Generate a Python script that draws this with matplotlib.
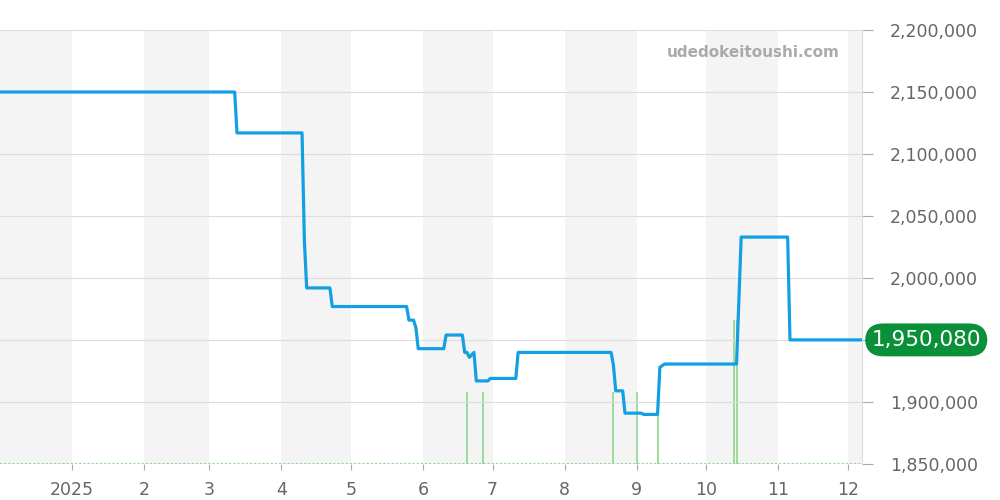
import pandas as pd
import matplotlib.pyplot as plt
from matplotlib.ticker import FuncFormatter

# price history
price_dates = ['2024-12-01', '2025-03-12', '2025-03-13', '2025-04-10', '2025-04-11', '2025-04-12',
               '2025-04-22', '2025-04-23', '2025-05-25', '2025-05-26', '2025-05-28', '2025-05-29',
               '2025-05-30', '2025-06-10', '2025-06-11', '2025-06-18', '2025-06-19', '2025-06-20',
               '2025-06-21', '2025-06-23', '2025-06-24', '2025-06-29', '2025-06-30', '2025-07-11',
               '2025-07-12', '2025-08-21', '2025-08-22', '2025-08-23', '2025-08-26', '2025-08-27',
               '2025-09-03', '2025-09-04', '2025-09-10', '2025-09-11', '2025-09-13', '2025-10-14',
               '2025-10-16', '2025-11-05', '2025-11-06', '2025-12-07']
price_values = [2150000, 2150000, 2117000, 2117000, 2030000, 1992000,
                1992000, 1977000, 1977000, 1966000, 1966000, 1960000,
                1943000, 1943000, 1954000, 1954000, 1940000, 1940000,
                1936000, 1940000, 1917000, 1917000, 1919000, 1919000,
                1940000, 1940000, 1930000, 1909000, 1909000, 1891000,
                1891000, 1890000, 1890000, 1928000, 1930600, 1930600,
                2033000, 2033000, 1950080, 1950080]

# volume bars
vol_dates = ['2025-06-20', '2025-06-27', '2025-08-22', '2025-09-01', '2025-09-10',
             '2025-10-13', '2025-10-14']
vol_values = [1, 1, 1, 1, 1, 2, 2]

last_price = 1950080
y_ticks = [1850000, 1900000, 1950000, 2000000, 2050000, 2100000, 2150000, 2200000]
x_ticks = ['2025-01-01', '2025-02-01', '2025-03-01', '2025-04-01', '2025-05-01', '2025-06-01',
           '2025-07-01', '2025-08-01', '2025-09-01', '2025-10-01', '2025-11-01', '2025-12-01']
x_tick_labels = ['2025', '2', '3', '4', '5', '6', '7', '8', '9', '10', '11', '12']

px = pd.to_datetime(price_dates)
vx = pd.to_datetime(vol_dates)
x_start = pd.Timestamp('2024-12-01')
x_end = pd.Timestamp('2025-12-07')

fig = plt.figure(figsize=(10, 5), dpi=100)
ax = fig.add_axes([0, 0.072, 0.862, 0.868])

# volume on a twin axis (drawn behind the price line)
ax2 = ax.twinx()
ax2.set_ylim(0, 6.03)
months = pd.date_range('2024-12-01', '2026-01-01', freq='MS')
for i in range(len(months) - 1):
    if i % 2 == 0:
        ax2.axvspan(months[i], months[i + 1], color='#f4f4f4', lw=0, zorder=0)
ax2.vlines(vx, 0, vol_values, color='#8fd68f', lw=1.2, zorder=1)
ax2.plot([x_start, x_end], [0, 0], color='#8fd68f', lw=1.5, ls=(0, (1, 1)), zorder=1)
ax2.set_yticks([])
for s in ax2.spines.values():
    s.set_visible(False)

ax.set_zorder(ax2.get_zorder() + 1)
ax.patch.set_visible(False)

ax.plot(px, price_values, color='#139fe3', lw=2.3, zorder=3)

ax.set_xlim(x_start, x_end)
ax2.set_xlim(x_start, x_end)
ax.set_ylim(1850000, 2200000)
ax.set_yticks(y_ticks)
ax.yaxis.tick_right()
# the 1,950,000 label sits under the last-price badge
ax.yaxis.set_major_formatter(FuncFormatter(lambda v, p: '' if v == 1950000 else f'{int(v):,}'))
ax.grid(axis='y', color='#dddddd', lw=0.8)
ax.set_xticks(pd.to_datetime(x_ticks))
ax.set_xticklabels(x_tick_labels)
ax.tick_params(axis='y', colors='#aaaaaa', labelcolor='#666666', labelsize=12.5,
               length=8, width=0.8, pad=12)
ax.tick_params(axis='x', colors='#aaaaaa', labelcolor='#666666', labelsize=12.5,
               length=4, width=0.8, pad=8)
for side in ['top', 'left', 'bottom']:
    ax.spines[side].set_visible(False)
ax.spines['right'].set_color('#dddddd')

# last price badge
ax.text(1.011, last_price, f'{last_price:,}',
        transform=ax.get_yaxis_transform(), ha='left', va='center', color='white',
        fontsize=15.5, zorder=5,
        bbox=dict(boxstyle='round,pad=0.3,rounding_size=0.85', fc='#0a9038', ec='none'))

fig.text(0.84, 0.895, 'udedokeitoushi.com', ha='right', va='center', color='#aaaaaa',
         fontsize=11, fontweight='bold')

fig.savefig('out.png', dpi=100)
